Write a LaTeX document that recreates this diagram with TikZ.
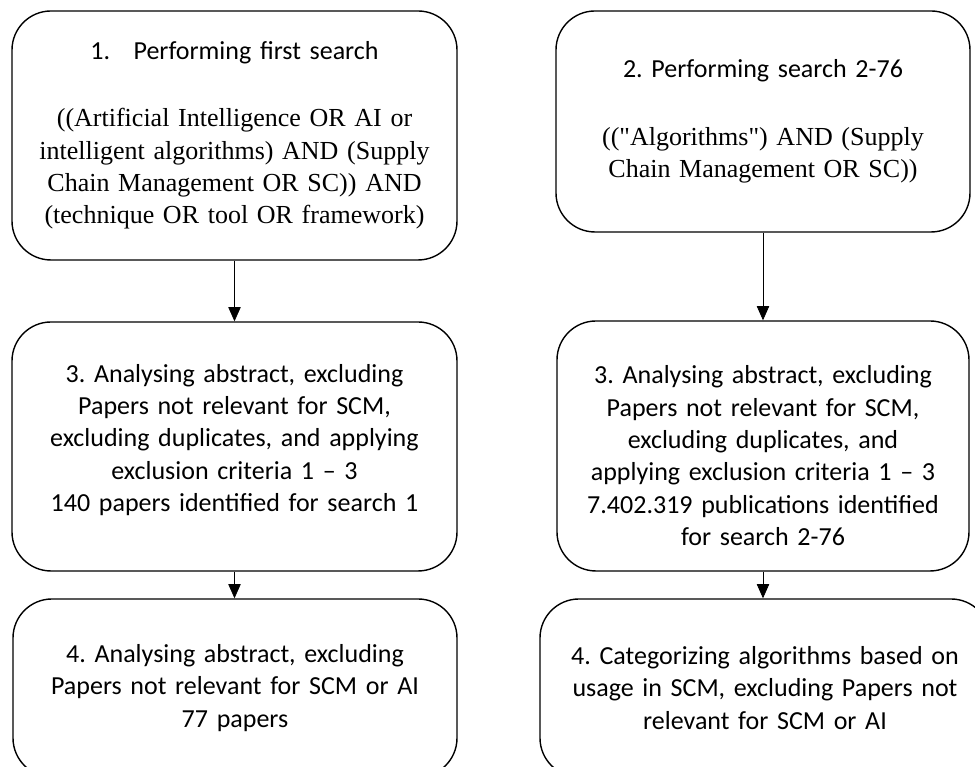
\documentclass[tikz,border=0pt]{standalone}
\usepackage{fontspec}
\usetikzlibrary{arrows.meta}
\newfontfamily\queryfont{Liberation Serif}
\newfontfamily\boxfont{Carlito}
\frenchspacing
\begin{document}
\begin{tikzpicture}[every node/.style={draw, rounded corners=0.78cm, line width=0.8pt,
        align=center, inner sep=0pt,
        font=\boxfont\fontsize{14.8}{18.4}\selectfont\frenchspacing},
    >={Stealth[length=8pt,width=7pt,inset=0pt]}]
    \clip (0,0) rectangle (19.5,15.34);

    % first row: the searches
    \node [minimum width=8.9cm, minimum height=4.98cm, text width=8.7cm] (search1) at (4.69,12.63)
        {1.\hspace{0.9em}Performing first search\\[20pt]
         \queryfont ((Artificial Intelligence OR AI or\\
         intelligent algorithms) AND (Supply\\
         Chain Management OR SC)) AND\\
         (technique OR tool OR framework)};
    \node [minimum width=8.28cm, minimum height=4.42cm, text width=8.1cm] (search2) at (15.26,12.91)
        {2. Performing search 2-76\\[20pt]
         \queryfont (("Algorithms") AND (Supply\\
         Chain Management OR SC))};

    % second row
    \node [minimum width=8.9cm, minimum height=4.98cm, text width=8.7cm] (abstract1) at (4.69,6.41)
        {3. Analysing abstract, excluding\\
         Papers not relevant for SCM,\\
         excluding duplicates, and applying\\
         exclusion criteria 1 – 3\\
         140 papers identified for search 1\\[-0.3cm]\mbox{}};
    \node [minimum width=8.24cm, minimum height=5cm, text width=8.1cm] (abstract2) at (15.26,6.42)
        {\mbox{}\\[0.1cm]
         3. Analysing abstract, excluding\\
         Papers not relevant for SCM,\\
         excluding duplicates, and\\
         applying exclusion criteria 1 – 3\\
         7.402.319 publications identified\\
         for search 2-76};

    % third row (runs off the page)
    \node [minimum width=8.88cm, minimum height=3.56cm, text width=8.7cm] (final1) at (4.7,1.58)
        {4. Analysing abstract, excluding\\
         Papers not relevant for SCM or AI\\
         77 papers};
    \node [minimum width=9cm, minimum height=3.56cm, text width=8.8cm] (final2) at (15.3,1.58)
        {4. Categorizing algorithms based on\\
         usage in SCM, excluding Papers not\\
         relevant for SCM or AI};

    \draw[->] (search1) -- (abstract1);
    \draw[->] (search2) -- (abstract2);
    \draw[->] (abstract1.south) -- (abstract1.south |- final1.north);
    \draw[->] (abstract2.south) -- (abstract2.south |- final2.north);
\end{tikzpicture}
\end{document}
